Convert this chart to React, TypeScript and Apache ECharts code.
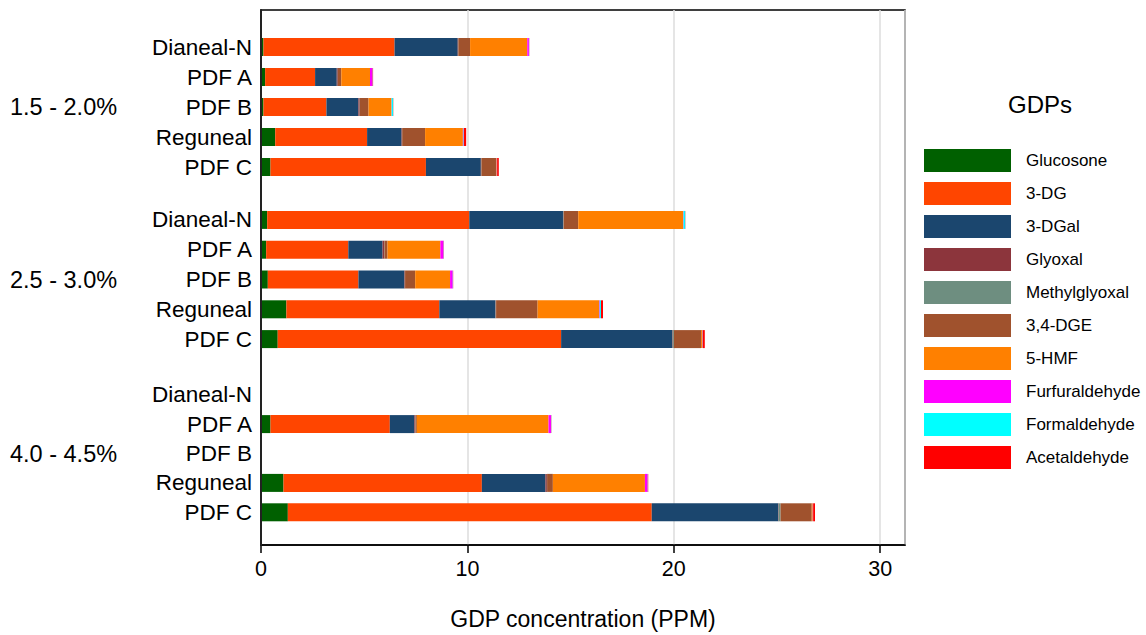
import React, { useEffect, useRef } from "react";
import * as echarts from "echarts";

// Rows are group-major: for each concentration group, the five products in order
const products = ["Dianeal-N", "PDF A", "PDF B", "Reguneal", "PDF C"];
const groups = ["1.5 - 2.0%", "2.5 - 3.0%", "4.0 - 4.5%"];
const compounds = [
  "Glucosone",
  "3-DG",
  "3-DGal",
  "Glyoxal",
  "Methylglyoxal",
  "3,4-DGE",
  "5-HMF",
  "Furfuraldehyde",
  "Formaldehyde",
  "Acetaldehyde",
];
const compoundColors = [
  "#006000",
  "#FF4500",
  "#1B466E",
  "#8C353C",
  "#6E8E80",
  "#A0522D",
  "#FF8000",
  "#FF00FF",
  "#00FFFF",
  "#FF0000",
];

const glucosone = [0.12, 0.2, 0.12, 0.69, 0.46, 0.3, 0.25, 0.33, 1.23, 0.81, null, 0.46, null, 1.09, 1.3];
const dg3 = [6.35, 2.42, 3.05, 4.45, 7.53, 9.79, 3.98, 4.39, 7.41, 13.73, null, 5.78, null, 9.61, 17.63];
const dgal3 = [3.06, 1.05, 1.55, 1.67, 2.66, 4.54, 1.66, 2.22, 2.71, 5.39, null, 1.19, null, 3.08, 6.13];
const glyoxal = [0.02, 0.05, 0.06, 0.02, 0.02, 0.02, 0.08, 0.03, 0.02, 0.02, null, 0.05, null, 0.07, 0.02];
const methylglyoxal = [0.01, 0.01, 0.01, 0.01, 0.01, 0.02, 0.01, 0.01, 0.02, 0.05, null, 0.01, null, 0.01, 0.09];
const dge34 = [0.57, 0.16, 0.42, 1.11, 0.71, 0.7, 0.15, 0.49, 2.01, 1.32, null, 0.06, null, 0.28, 1.51];
const hmf5 = [2.77, 1.39, 1.11, 1.83, 0.03, 5.08, 2.56, 1.69, 2.98, 0.06, null, 6.38, null, 4.46, 0.05];
const furfuraldehyde = [0.08, 0.12, 0.01, 0.03, 0.01, 0.02, 0.15, 0.13, 0.03, 0.01, null, 0.12, null, 0.13, 0.01];
const formaldehyde = [0.01, 0.01, 0.07, 0.02, 0.01, 0.08, 0.01, 0.01, 0.06, 0.01, null, 0.01, null, 0.01, 0.01];
const acetaldehyde = [0.01, 0.02, 0.01, 0.11, 0.08, 0.01, 0.01, 0.01, 0.1, 0.1, null, 0.01, null, 0.02, 0.09];

const xTicks = { min: 0, max: 31.2, interval: 10 };

const compoundValues = [
  glucosone,
  dg3,
  dgal3,
  glyoxal,
  methylglyoxal,
  dge34,
  hmf5,
  furfuraldehyde,
  formaldehyde,
  acetaldehyde,
];

const FONT = "'Liberation Sans', Arial, Helvetica, sans-serif";

export default function App() {
  const ref = useRef<HTMLDivElement>(null);

  useEffect(() => {
    if (!ref.current) return;
    const chart = echarts.init(ref.current, null, { renderer: "svg" });

    const plotLeft = 261;
    const plotWidth = 644;
    const groupGrids = [
      { top: 32, height: 150 },
      { top: 205, height: 149 },
      { top: 380, height: 147 },
    ];

    const grid: any[] = [
      { left: plotLeft, top: 10, width: plotWidth, height: 538, show: true, borderColor: "#000", borderWidth: 1.5, backgroundColor: "#fff" },
      ...groupGrids.map((g) => ({ left: plotLeft, top: g.top, width: plotWidth, height: g.height })),
    ];

    const xAxis: any[] = [
      {
        type: "value",
        gridIndex: 0,
        min: xTicks.min,
        max: xTicks.max,
        interval: xTicks.interval,
        axisLine: { show: true, lineStyle: { color: "#000", width: 1.5 } },
        axisTick: { show: true, inside: false, length: 8, lineStyle: { color: "#000", width: 1.5 } },
        axisLabel: { fontSize: 21.5, color: "#000", margin: 13, fontFamily: FONT, showMaxLabel: false },
        splitLine: { show: true, lineStyle: { color: "#DCDCDC", width: 1.5 } },
        name: "GDP concentration (PPM)",
        nameLocation: "middle",
        nameGap: 62,
        nameTextStyle: { fontSize: 23, color: "#000", fontFamily: FONT },
      },
      ...groupGrids.map((_, i) => ({
        type: "value",
        gridIndex: i + 1,
        min: xTicks.min,
        max: xTicks.max,
        show: false,
      })),
    ];

    const yAxis: any[] = [
      {
        type: "value",
        gridIndex: 0,
        z: 5,
        axisLine: { show: true, onZero: false, lineStyle: { color: "#222", width: 2 } },
        axisTick: { show: false },
        axisLabel: { show: false },
        splitLine: { show: false },
      },
    ];
    groups.forEach((grp, gi) => {
      yAxis.push({
        type: "category",
        gridIndex: gi + 1,
        position: "left",
        inverse: true,
        data: products,
        axisLine: { show: false },
        axisTick: { show: false },
        axisLabel: { interval: 0, fontSize: 22.5, color: "#000", margin: 9, fontFamily: FONT },
      });
      yAxis.push({
        type: "category",
        gridIndex: gi + 1,
        position: "left",
        inverse: true,
        data: products.map((_, pi) => (pi === 2 ? grp : "")),
        axisLine: { show: false },
        axisTick: { show: false },
        axisLabel: { interval: 0, fontSize: 23.5, color: "#000", margin: 251, align: "left", fontFamily: FONT },
      });
    });

    const series: any[] = [];
    groups.forEach((_, gi) => {
      compounds.forEach((name, ci) => {
        series.push({
          type: "bar",
          name,
          stack: "g" + gi,
          xAxisIndex: gi + 1,
          yAxisIndex: 1 + gi * 2,
          barWidth: 18,
          itemStyle: { color: compoundColors[ci] },
          data: compoundValues[ci].slice(gi * products.length, (gi + 1) * products.length),
        });
      });
    });

    chart.setOption({
      animation: false,
      backgroundColor: "#fff",
      textStyle: { fontFamily: FONT },
      title: {
        text: "GDPs",
        left: 1008,
        top: 92,
        padding: 0,
        textStyle: { fontSize: 24, fontWeight: "normal", color: "#000", fontFamily: FONT },
      },
      legend: {
        data: compounds,
        orient: "vertical",
        left: 924,
        top: 149,
        padding: 0,
        itemWidth: 87,
        itemHeight: 23,
        itemGap: 10,
        icon: "rect",
        selectedMode: false,
        textStyle: { fontSize: 17, color: "#000", fontFamily: FONT, padding: [0, 0, 0, 10] },
      },
      grid,
      xAxis,
      yAxis,
      series,
    });

    return () => chart.dispose();
  }, []);

  return (
    <div
      ref={ref}
      style={{ position: "fixed", left: 0, top: 0, width: 1146, height: 635, background: "#fff" }}
    />
  );
}
